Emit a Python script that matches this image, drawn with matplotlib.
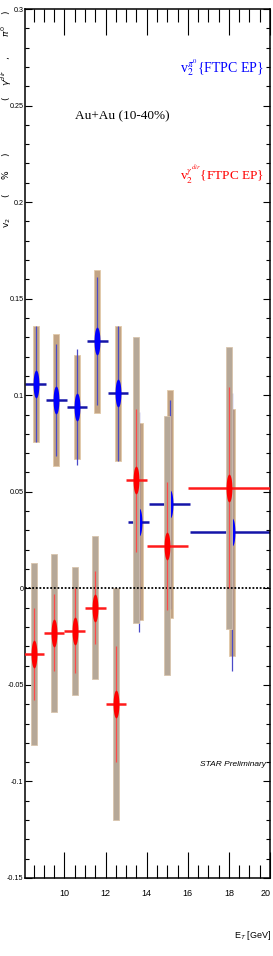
# v2 des photons directs et des pi0 en fonction de E_T (Au+Au 10-40%)
import numpy as np
import matplotlib
matplotlib.use("Agg")
import matplotlib.pyplot as plt
import matplotlib.transforms as mtransforms
from matplotlib.path import Path
from matplotlib.ticker import MultipleLocator

plt.rcParams['mathtext.fontset'] = 'custom'
plt.rcParams['mathtext.rm'] = 'Liberation Sans'
plt.rcParams['mathtext.it'] = 'Liberation Sans:italic'

################################################################################
# données
################################################################################
# photons directs (rouge)
red_x = [8.5, 9.5, 10.5, 11.5, 12.5, 13.5, 15.0, 18.0]
red_lo = [8.0, 9.0, 10.0, 11.0, 12.0, 13.0, 14.0, 16.0]
red_hi = [9.0, 10.0, 11.0, 12.0, 13.0, 14.0, 16.0, 20.0]
red_v2 = [-0.034, -0.023, -0.022, -0.010, -0.060, 0.056, 0.022, 0.052]
red_stat = [0.024, 0.020, 0.022, 0.019, 0.030, 0.037, 0.033, 0.052]
red_sys = [0.047, 0.041, 0.033, 0.037, 0.060, 0.074, 0.067, 0.073]

# pi0 (bleu)
blue_x = [8.6, 9.6, 10.6, 11.6, 12.6, 13.65, 15.15, 18.15]
blue_lo = [8.1, 9.1, 10.1, 11.1, 12.1, 13.1, 14.1, 16.1]
blue_hi = [9.1, 10.1, 11.1, 12.1, 13.1, 14.1, 16.1, 20.1]
blue_v2 = [0.106, 0.0975, 0.094, 0.128, 0.101, 0.0345, 0.0435, 0.029]
blue_stat = [0.030, 0.029, 0.030, 0.033, 0.035, 0.057, 0.054, 0.072]
blue_sys = [0.030, 0.034, 0.027, 0.037, 0.035, 0.051, 0.059, 0.064]

xticks = [10, 12, 14, 16, 18, 20]
yticks = [-0.15, -0.1, -0.05, 0, 0.05, 0.1, 0.15, 0.2, 0.25, 0.3]
ytick_labels = ['-0.15', '-0.1', '-0.05', '0', '0.05', '0.1', '0.15', '0.2', '0.25', '0.3']

W, H = 273, 956

# marqueur ellipse (cercle ROOT écrasé horizontalement)
t = np.linspace(0, 2*np.pi, 60)
ell = Path(np.column_stack([0.21*np.cos(t), np.sin(t)]), closed=True)

fig = plt.figure(figsize=(W/100, H/100), dpi=100)
ax = fig.add_axes([25/W, 78/H, 245/W, 869/H])

# boites systematiques pi0
bv = np.array(blue_v2); bs = np.array(blue_sys)
ax.bar(blue_x, 2*bs, bottom=bv-bs, width=0.3, color='#c2a485',
       edgecolor='#e2c9a8', linewidth=0.6, zorder=1)
# erreurs pi0
ax.hlines(blue_v2, blue_lo, blue_hi, color='#1414a8', linewidth=1.8, zorder=2)
ax.vlines(blue_x, bv-np.array(blue_stat), bv+np.array(blue_stat),
          color='#4a4ac8', linewidth=0.9, zorder=2)
ax.plot(blue_x, blue_v2, linestyle='none', marker=ell, markersize=20,
        color='#0000ff', markeredgewidth=0, zorder=3)

# boites systematiques photons directs
rv = np.array(red_v2); rs = np.array(red_sys)
ax.bar(red_x, 2*rs, bottom=rv-rs, width=0.3, color='#b6a898',
       edgecolor='#d8c4ac', linewidth=0.6, zorder=4)
ax.axhline(0, color='black', linestyle=(0, (1, 1)), linewidth=1.3, zorder=4.5)
ax.hlines(red_v2, red_lo, red_hi, color='#ff1a1a', linewidth=1.8, zorder=5)
ax.vlines(red_x, rv-np.array(red_stat), rv+np.array(red_stat),
          color='#ff4a4a', linewidth=0.9, zorder=5)
ax.plot(red_x, red_v2, linestyle='none', marker=ell, markersize=20,
        color='#ff0000', markeredgewidth=0, zorder=6)

ax.set_xlim(8.08, 20)
ax.set_ylim(-0.15, 0.3)
ax.set_xticks(xticks)
ax.set_xticklabels([str(v) for v in xticks], fontfamily='Liberation Sans', fontsize=6.5)
ax.set_yticks(yticks)
ax.set_yticklabels(ytick_labels, fontfamily='Liberation Sans', fontsize=5.2)
ax.xaxis.set_minor_locator(MultipleLocator(0.5))
ax.yaxis.set_minor_locator(MultipleLocator(0.01))
ax.tick_params(axis='x', which='major', direction='in', top=True, length=18.5,
               width=0.8, pad=8)
ax.tick_params(axis='x', which='minor', direction='in', top=True, length=9.5, width=0.8)
ax.tick_params(axis='y', which='major', direction='in', right=True, length=5,
               width=0.8, pad=1.0)
ax.tick_params(axis='y', which='minor', direction='in', right=True, length=2.6, width=0.8)
for s in ax.spines.values():
    s.set_linewidth(1.1)
# le "20" reste dans le cadre de l'image
last = ax.get_xticklabels()[-1]
last.set_transform(last.get_transform() +
                   mtransforms.ScaledTranslation(-3/72, 0, fig.dpi_scale_trans))

# textes
fig.text(122/W, 1-116/H, 'Au+Au (10-40%)', fontfamily='Liberation Serif',
         fontsize=9.5, ha='center', va='center')
fig.text(264/W, 1-68/H, r'v$_2^{\pi^0}${FTPC EP}', fontfamily='Liberation Serif',
         math_fontfamily='stix', fontsize=10, color='#0000ff', ha='right', va='center')
fig.text(264/W, 1-175/H, r'v$_2^{\gamma^{dir}}${FTPC EP}', fontfamily='Liberation Serif',
         math_fontfamily='stix', fontsize=9.5, color='#ff0000', ha='right', va='center')
fig.text(233/W, 1-765/H, 'STAR Preliminary', fontfamily='Liberation Sans', style='italic',
         fontsize=6, ha='center', va='center')
fig.text(271/W, 1-936/H, r'E$_{T}$ [GeV]', fontfamily='Liberation Sans', fontsize=6.5,
         ha='right', va='center')
# titre de l'axe y, en deux morceaux autour du label 0.25
fig.text(6.5/W, 1-10/H, r'(    $\gamma^{dir}$    ,       $\pi^{0}$    )',
         fontsize=6.6, rotation=90, ha='center', va='top', math_fontfamily='dejavusans')
fig.text(6.5/W, 1-228/H, r'v$_2$       (     %     )',
         fontsize=6.6, rotation=90, ha='center', va='bottom', math_fontfamily='dejavusans')

fig.savefig('out.png', dpi=100)
